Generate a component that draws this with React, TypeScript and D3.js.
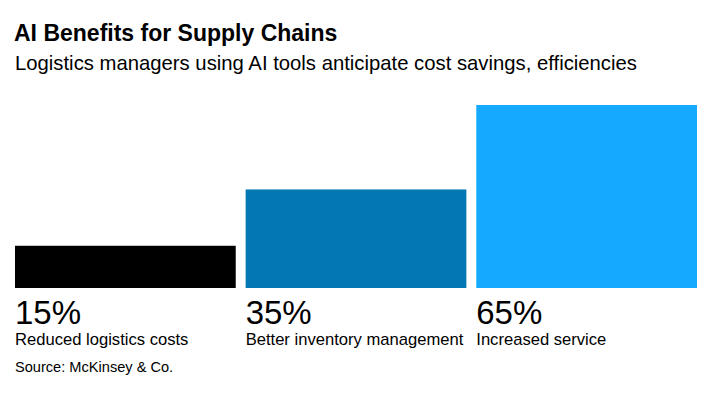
import React from 'react';
import * as d3 from 'd3';

const categories = ['Reduced logistics costs', 'Better inventory management', 'Increased service'];
const values = [15, 35, 65];
const colors = ['#000000', '#0377b1', '#15aaff'];
const valueLabels = ['15%', '35%', '65%'];

const width = 711;
const height = 393;
const font = '"Liberation Sans", Arial, Helvetica, sans-serif';

export default function App() {
    const x = d3
        .scaleBand<string>()
        .domain(categories)
        .range([15, 697])
        .paddingInner(0.043);

    const y = d3
        .scaleLinear()
        .domain([0, 65])
        .range([288, 105]);

    return (
        <svg
            width={width}
            height={height}
            style={{ position: 'absolute', left: 0, top: 0, background: '#fff' }}
        >
            <text x={14} y={41} fontFamily={font} fontWeight="bold" fontSize={23} fill="#000">
                AI Benefits for Supply Chains
            </text>
            <text x={15} y={70} fontFamily={font} fontSize={20.3} fill="#000">
                Logistics managers using AI tools anticipate cost savings, efficiencies
            </text>
            {categories.map((c, i) => (
                <g key={c}>
                    <rect
                        x={x(c)}
                        y={y(values[i])}
                        width={x.bandwidth()}
                        height={y(0) - y(values[i])}
                        fill={colors[i]}
                    />
                    <text x={x(c)} y={324} fontFamily={font} fontSize={33} fill="#000">
                        {valueLabels[i]}
                    </text>
                    <text x={x(c)} y={345} fontFamily={font} fontSize={16.6} fill="#000">
                        {c}
                    </text>
                </g>
            ))}
            <text x={15} y={372} fontFamily={font} fontSize={14.6} fill="#000">
                Source: McKinsey &amp; Co.
            </text>
        </svg>
    );
}
